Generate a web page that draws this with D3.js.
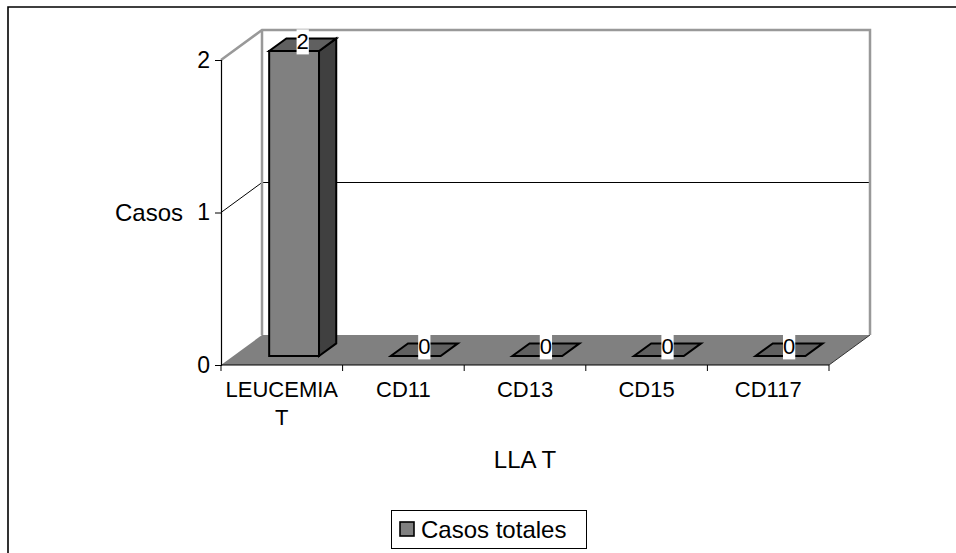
<!DOCTYPE html>
<html>
<head>
<meta charset="utf-8">
<script src="https://cdn.jsdelivr.net/npm/d3@7"></script>
<style>
  html, body { margin: 0; padding: 0; background: #fff; }
  svg { display: block; font-family: Arial, "Liberation Sans", sans-serif; }
</style>
</head>
<body>
<svg id="chart" width="956" height="553"></svg>
<script>
// Categories and values of the 3D column chart
const categories = ["LEUCEMIA T", "CD11", "CD13", "CD15", "CD117"];
const casosTotales = [2, 0, 0, 0, 0];
const yTicks = [0, 1, 2];
const seriesName = "Casos totales";
const yTitle = "Casos";
const xTitle = "LLA T";

const svg = d3.select("#chart");

// Front plane scales
const x = d3.scaleBand().domain(categories).range([221, 829]).padding(0);
const y = d3.scaleLinear().domain([0, 2]).range([365, 60]);

// Oblique depth projection: full depth shifts right and up
const DX = 41, DY = -30;
const P = (px, py, d) => [px + DX * d, py + DY * d];
const poly = pts => "M" + pts.map(p => p.join(",")).join("L") + "Z";

// Outer chart frame
svg.append("path")
  .attr("d", "M8,553 L8,7 L956,7")
  .attr("fill", "none").attr("stroke", "#000").attr("stroke-width", 1.6);

const x0 = x.range()[0], x1 = x.range()[1];
const yTop = y(2), yBase = y(0);

// Floor
svg.append("path")
  .attr("d", poly([P(x0, yBase, 0), P(x1, yBase, 0), P(x1, yBase, 1), P(x0, yBase, 1)]))
  .attr("fill", "#808080");
svg.append("line")
  .attr("x1", x1).attr("y1", yBase).attr("x2", P(x1, yBase, 1)[0]).attr("y2", P(x1, yBase, 1)[1])
  .attr("stroke", "#333").attr("stroke-width", 1);

// Gridline: side wall diagonal + back wall horizontal
yTicks.filter(t => t > 0 && t < 2).forEach(t => {
  const a = P(x0, y(t), 0), b = P(x0, y(t), 1), c = P(x1, y(t), 1);
  svg.append("path").attr("d", `M${a}L${b}L${c}`)
    .attr("fill", "none").attr("stroke", "#000").attr("stroke-width", 1);
});

// Walls outline (grey)
{
  const a = P(x0, yTop, 0), b = P(x0, yTop, 1), c = P(x1, yTop, 1);
  const bl = P(x0, yBase, 1), br = P(x1, yBase, 1);
  svg.append("path").attr("d", `M${a}L${b}L${c}L${br}`)
    .attr("fill", "none").attr("stroke", "#999").attr("stroke-width", 2.5);
  svg.append("line").attr("x1", b[0]).attr("y1", b[1]).attr("x2", bl[0]).attr("y2", bl[1])
    .attr("stroke", "#999").attr("stroke-width", 2.5);
}

// Y axis
const yAxis = svg.append("g")
  .attr("transform", `translate(${x0},0)`)
  .call(d3.axisLeft(y).tickValues(yTicks).tickFormat(d3.format("d")).tickSize(6).tickPadding(5));
yAxis.select(".domain").attr("stroke", "#000").attr("stroke-width", 1.2);
yAxis.selectAll(".tick line").attr("stroke", "#000");
yAxis.selectAll("text").attr("font-size", 23).attr("fill", "#000");

svg.append("text")
  .attr("x", 183).attr("y", y(1)).attr("dy", "0.35em")
  .attr("text-anchor", "end").attr("font-size", 24).text(yTitle);

// Columns
const dFront = 0.3, dBack = 0.72;
const barW = x.bandwidth() * 0.41;
const bars = svg.append("g");
categories.forEach((c, i) => {
  const v = casosTotales[i];
  const cx = x(c) + x.bandwidth() / 2;
  const l = cx - barW / 2, r = cx + barW / 2;
  const yt = y(v), yb = y(0);
  const g = bars.append("g");
  const edge = sel => sel.attr("stroke", "#000").attr("stroke-width", 2).attr("stroke-linejoin", "miter");
  if (v > 0) {
    // front face
    g.append("path").attr("d", poly([P(l, yb, dFront), P(r, yb, dFront), P(r, yt, dFront), P(l, yt, dFront)]))
      .attr("fill", "#808080").call(edge);
    // side face
    g.append("path").attr("d", poly([P(r, yb, dFront), P(r, yb, dBack), P(r, yt, dBack), P(r, yt, dFront)]))
      .attr("fill", "#404040").call(edge);
  }
  // top face
  g.append("path").attr("d", poly([P(l, yt, dFront), P(r, yt, dFront), P(r, yt, dBack), P(l, yt, dBack)]))
    .attr("fill", "#606060").call(edge);

  // value label on a white box
  const lc = P(cx, yt, (dFront + dBack) / 2);
  const t = g.append("text")
    .attr("x", lc[0]).attr("y", lc[1] - 3).attr("dy", "0.35em")
    .attr("text-anchor", "middle").attr("font-size", 22).text(v);
  const bb = t.node().getBBox();
  g.insert("rect", "text")
    .attr("x", bb.x).attr("y", bb.y).attr("width", bb.width).attr("height", bb.height)
    .attr("fill", "#fff");
});

// Category axis line and boundary ticks
svg.append("line").attr("x1", x0).attr("y1", yBase).attr("x2", x1).attr("y2", yBase)
  .attr("stroke", "#000").attr("stroke-width", 1.2);
const bounds = categories.map(c => x(c)).concat([x1]);
svg.append("g").selectAll("line").data(bounds).join("line")
  .attr("x1", d => d).attr("x2", d => d).attr("y1", yBase).attr("y2", yBase + 6)
  .attr("stroke", "#000").attr("stroke-width", 1);

// Category labels (wrapped on spaces)
const xAxis = svg.append("g")
  .attr("transform", `translate(0,${yBase})`)
  .call(d3.axisBottom(x).tickSize(0).tickPadding(16));
xAxis.select(".domain").remove();
xAxis.selectAll("text").attr("font-size", 22).attr("fill", "#000")
  .each(function (d) {
    const words = d.split(" ");
    if (words.length > 1) {
      const el = d3.select(this).text(null);
      words.forEach((w, k) => {
        el.append("tspan").attr("x", 0).attr("dy", k === 0 ? "0.71em" : "1.3em").text(w);
      });
      el.attr("dy", null);
    }
  });

svg.append("text")
  .attr("x", (x0 + x1) / 2).attr("y", 468)
  .attr("text-anchor", "middle").attr("font-size", 24).text(xTitle);

// Legend
const leg = svg.append("g");
leg.append("rect").attr("x", 391.5).attr("y", 510.5).attr("width", 195).attr("height", 38)
  .attr("fill", "#fff").attr("stroke", "#000").attr("stroke-width", 1);
leg.append("rect").attr("x", 400).attr("y", 522).attr("width", 14).attr("height", 14)
  .attr("fill", "#808080").attr("stroke", "#000").attr("stroke-width", 1.6);
leg.append("text").attr("x", 421).attr("y", 538).attr("font-size", 24).text(seriesName);
</script>
</body>
</html>
